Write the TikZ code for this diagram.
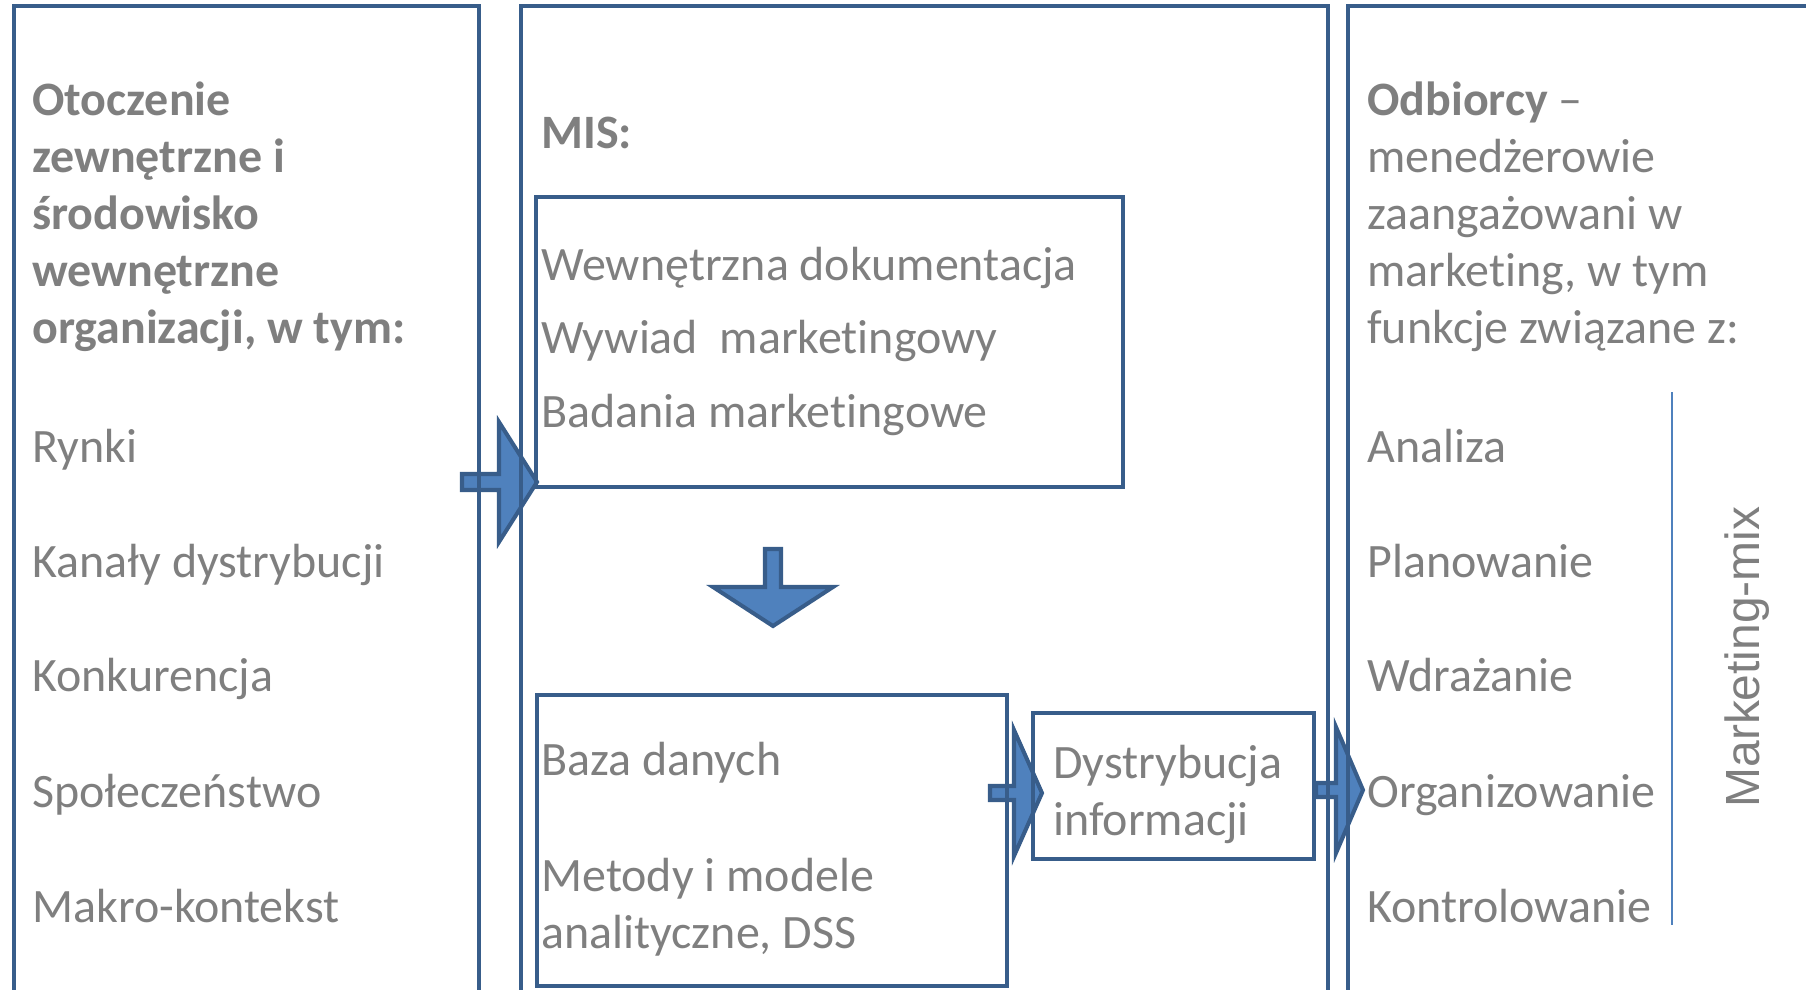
\documentclass[tikz,border=0pt]{standalone}
\usepackage{fontspec}
\setmainfont{Carlito}[Ligatures=NoCommon]
\newfontfamily\misarial{Liberation Sans}
\usetikzlibrary{fit}

\definecolor{misborder}{HTML}{385D8A}
\definecolor{misfill}{HTML}{4F81BD}
\definecolor{mistext}{HTML}{7F7F7F}

\tikzset{
  misbox/.style={draw=misborder, line width=2.3pt, inner sep=0pt},
  mistxt/.style={text=mistext, font=\fontsize{27.3}{32.4}\selectfont, inner sep=0pt, anchor=base west, align=left},
  mishead/.style={mistxt, font=\fontsize{27.3}{32.4}\selectfont\bfseries},
  misarrow/.style={draw=misborder, fill=misfill, line width=2.3pt, line join=miter},
  misline/.style={draw=misfill, line width=0.9pt}
}

\begin{document}
\begin{tikzpicture}[x=0.02cm, y=-0.02cm]
\useasboundingbox (0,0) rectangle (1806,990);
\clip (0,0) rectangle (1806,990);

% tips of the block arrows
\coordinate (tip1) at (537,482);
\coordinate (tip2) at (773,626);
\coordinate (tip3) at (1042,793);
\coordinate (tip4) at (1363,790);

\draw[misarrow] (tip1) -- ++(-38,-60) -- ++(0,52) -- ++(-37,0) -- ++(0,16) -- ++(37,0) -- ++(0,52) -- cycle;
\draw[misarrow] (tip2) -- ++(-60,-39) -- ++(52,0) -- ++(0,-38) -- ++(16,0) -- ++(0,38) -- ++(52,0) -- cycle;
\draw[misarrow] (tip3) -- ++(-28,-63) -- ++(0,56) -- ++(-24,0) -- ++(0,14) -- ++(24,0) -- ++(0,56) -- cycle;
\draw[misarrow] (tip4) -- ++(-27,-63) -- ++(0,56) -- ++(-20,0) -- ++(0,14) -- ++(20,0) -- ++(0,56) -- cycle;

% frames
\node[misbox, fit={(14,6) (479,1030)}] (otoczenie) {};
\node[misbox, fit={(521,6) (1328,1030)}] (mis) {};
\node[misbox, fit={(1348,6) (1850,1030)}] (odbiorcy) {};

\node[misbox, fit={(536,197) (1123,487)}] (zrodla) {};
\node[misbox, fit={(537,695) (1007,986)}] (baza) {};
\node[misbox, fit={(1033,713) (1314,859)}] (dystr) {};

% left column (base = last line)
\node[mishead] (othead) at (32,343) {Otoczenie\\zewnętrzne i\\środowisko\\wewnętrzne\\organizacji, w tym:};
\node[mistxt] (rynki) at (32,462) {Rynki};
\node[mistxt] (kanaly) at (32,577) {Kanały dystrybucji};
\node[mistxt] (konk) at (32,691) {Konkurencja};
\node[mistxt] (spol) at (32,807) {Społeczeństwo};
\node[mistxt] (makro) at (32,922) {Makro-kontekst};

% middle column
\node[mishead] (mishead) at (541,149) {MIS:};
\node[mistxt] (wew) at (541,280) {Wewnętrzna dokumentacja};
\node[mistxt] (wyw) at (541,353) {Wywiad\ \ marketingowy};
\node[mistxt] (bad) at (541,427) {Badania marketingowe};
\node[mistxt] (bazatxt) at (541,775) {Baza danych};
\node[mistxt] (metody) at (541,948) {Metody i modele\\analityczne, DSS};
\node[mistxt] (dystrtxt) at (1053,835) {Dystrybucja\\informacji};

% right column
\node[mistxt] (odhead) at (1367,343) {\textbf{Odbiorcy} –\\menedżerowie\\zaangażowani w\\marketing, w tym\\funkcje związane z:};
\node[mistxt] (analiza) at (1367,462) {Analiza};
\node[mistxt] (plan) at (1367,577) {Planowanie};
\node[mistxt] (wdr) at (1367,691) {Wdrażanie};
\node[mistxt] (org) at (1367,807) {Organizowanie};
\node[mistxt] (kontr) at (1367,922) {Kontrolowanie};

\coordinate (mixtop) at (1672,392);
\coordinate (mixbot) at (1672,925);
\draw[misline] (mixtop) -- (mixbot);
\node[text=mistext, font=\misarial\fontsize{27.3}{32.4}\selectfont, inner sep=0pt, anchor=base, rotate=90] (mix) at (1759,657) {Marketing-mix};
\end{tikzpicture}
\end{document}
